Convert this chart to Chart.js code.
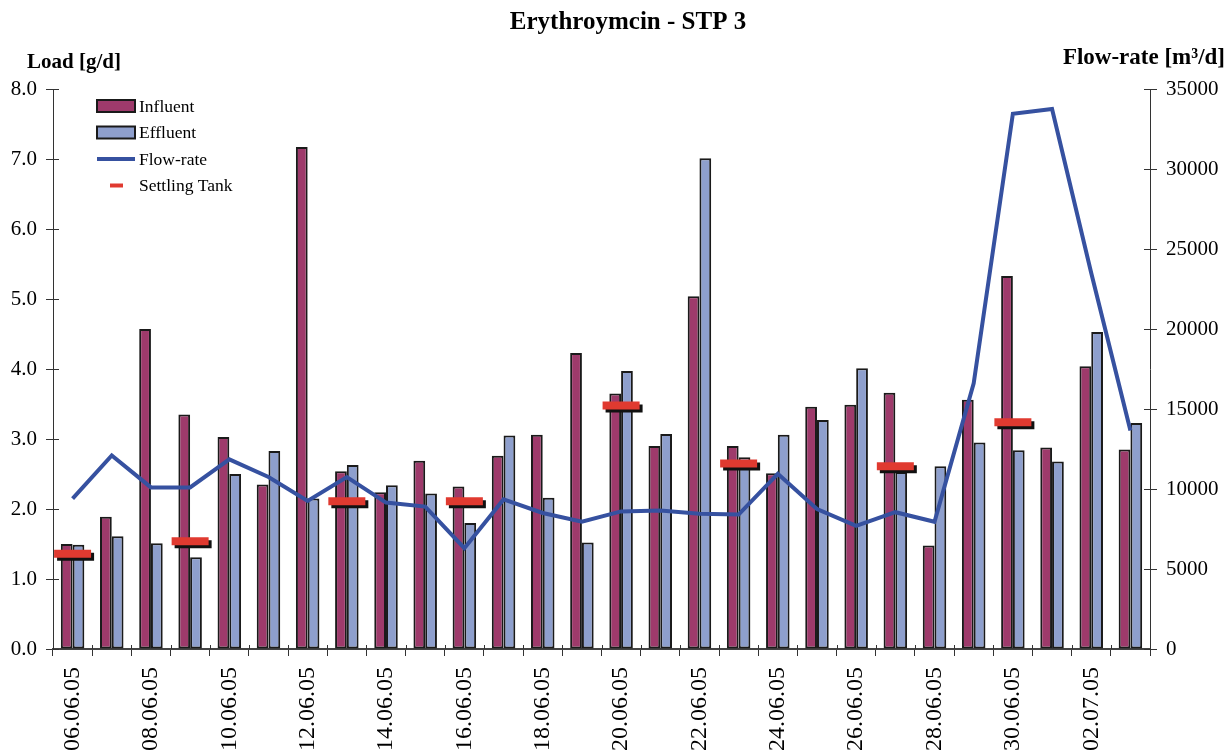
<!DOCTYPE html>
<html>
<head>
<meta charset="utf-8">
<title>Erythroymcin - STP 3</title>
<script src="https://cdn.jsdelivr.net/npm/chart.js@4.4.1/dist/chart.umd.min.js"></script>
<style>
  html, body { margin: 0; padding: 0; background: #fff; }
  #chart { display: block; }
</style>
</head>
<body>
<canvas id="chart" width="1231" height="756"></canvas>
<script>
// sampling days, one bar pair per day
const days = [
  '06.06.05', '07.06.05', '08.06.05', '09.06.05', '10.06.05', '11.06.05', '12.06.05',
  '13.06.05', '14.06.05', '15.06.05', '16.06.05', '17.06.05', '18.06.05', '19.06.05',
  '20.06.05', '21.06.05', '22.06.05', '23.06.05', '24.06.05', '25.06.05', '26.06.05',
  '27.06.05', '28.06.05', '29.06.05', '30.06.05', '01.07.05', '02.07.05', '03.07.05',
];

// load in g/d
const influent = [
  1.50, 1.89, 4.57, 3.35, 3.03, 2.35, 7.17, 2.54, 2.24, 2.69, 2.32, 2.76, 3.06, 4.23,
  3.65, 2.90, 5.04, 2.90, 2.51, 3.46, 3.49, 3.66, 1.48, 3.56, 5.33, 2.88, 4.04, 2.85,
];
const effluent = [
  1.49, 1.61, 1.51, 1.31, 2.50, 2.83, 2.15, 2.63, 2.34, 2.22, 1.80, 3.05, 2.16, 1.52,
  3.97, 3.07, 7.01, 2.74, 3.06, 3.27, 4.01, 2.53, 2.61, 2.95, 2.84, 2.68, 4.53, 3.23,
];
const settlingTank = [
  1.36, null, null, 1.54, null, null, null, 2.11, null, null, 2.11, null, null, null,
  3.48, null, null, 2.65, null, null, null, 2.61, null, null, 3.24, null, null, null,
];

// flow-rate in m3/d
const flowRate = [
  9400, 12100, 10100, 10100, 11850, 10750, 9250, 10750, 9150, 8900, 6300, 9350, 8500, 7950,
  8600, 8650, 8450, 8400, 10950, 8750, 7700, 8550, 7950, 16600, 33450, 33750, 23500, 13650,
];

const loadTicks = [0, 1, 2, 3, 4, 5, 6, 7, 8];
const flowTicks = [0, 5000, 10000, 15000, 20000, 25000, 30000, 35000];

const SERIF = '"Liberation Serif", "Times New Roman", serif';
const INK = '#1a1a1a';
const colors = {
  influent: '#9e3a6b',
  effluent: '#8e9fcd',
  flow: '#3651a0',
  tank: '#e03a30',
};

// black drop shadow under the settling tank dashes
const tankShadow = {
  id: 'tankShadow',
  beforeDatasetDraw(chart, args) {
    if (chart.data.datasets[args.index].label !== 'Settling Tank') return;
    const ctx = chart.ctx;
    ctx.save();
    ctx.shadowColor = '#111';
    ctx.shadowOffsetX = 3;
    ctx.shadowOffsetY = 3;
    ctx.shadowBlur = 0;
  },
  afterDatasetDraw(chart, args) {
    if (chart.data.datasets[args.index].label !== 'Settling Tank') return;
    chart.ctx.restore();
  },
};

// title, axis captions, inner tick marks and legend
const decorations = {
  id: 'decorations',
  afterDraw(chart) {
    const ctx = chart.ctx;
    const area = chart.chartArea;
    ctx.save();
    ctx.fillStyle = '#000';
    ctx.textBaseline = 'alphabetic';

    ctx.font = 'bold 25px ' + SERIF;
    ctx.textAlign = 'center';
    ctx.fillText('Erythroymcin - STP 3', 628, 29);

    ctx.font = 'bold 21px ' + SERIF;
    ctx.textAlign = 'left';
    ctx.fillText('Load [g/d]', 27, 68);
    ctx.font = 'bold 23px ' + SERIF;
    ctx.textAlign = 'right';
    ctx.fillText('Flow-rate [m\u00b3/d]', 1225, 64);

    // ticks crossing into the plot
    ctx.strokeStyle = '#333';
    ctx.lineWidth = 1;
    ctx.beginPath();
    chart.scales.y.ticks.forEach((t) => {
      const y = Math.round(chart.scales.y.getPixelForValue(t.value)) + 0.5;
      ctx.moveTo(area.left, y);
      ctx.lineTo(area.left + 6, y);
    });
    chart.scales.y2.ticks.forEach((t) => {
      const y = Math.round(chart.scales.y2.getPixelForValue(t.value)) + 0.5;
      ctx.moveTo(area.right - 6, y);
      ctx.lineTo(area.right, y);
    });
    const step = (area.right - area.left) / days.length;
    for (let i = 0; i <= days.length; i++) {
      const x = Math.round(area.left + i * step) + 0.5;
      ctx.moveTo(x, area.bottom - 4);
      ctx.lineTo(x, area.bottom);
    }
    ctx.stroke();

    // legend
    const lx = 97, rowH = 26.5, top = 106;
    ctx.font = '17.5px ' + SERIF;
    ctx.textAlign = 'left';
    ctx.textBaseline = 'middle';
    [colors.influent, colors.effluent].forEach((c, i) => {
      const y = top + i * rowH;
      ctx.fillStyle = c;
      ctx.fillRect(lx, y - 6, 38, 12);
      ctx.strokeStyle = INK;
      ctx.lineWidth = 2;
      ctx.strokeRect(lx, y - 6, 38, 12);
    });
    ctx.strokeStyle = colors.flow;
    ctx.lineWidth = 4;
    ctx.beginPath();
    ctx.moveTo(lx, top + 2 * rowH);
    ctx.lineTo(lx + 38, top + 2 * rowH);
    ctx.stroke();
    ctx.strokeStyle = colors.tank;
    ctx.beginPath();
    ctx.moveTo(lx + 13, top + 3 * rowH);
    ctx.lineTo(lx + 26, top + 3 * rowH);
    ctx.stroke();
    ctx.fillStyle = '#000';
    ['Influent', 'Effluent', 'Flow-rate', 'Settling Tank'].forEach((t, i) => {
      ctx.fillText(t, lx + 42, top + i * rowH + 1);
    });
    ctx.restore();
  },
};

new Chart(document.getElementById('chart'), {
  type: 'bar',
  data: {
    labels: days,
    datasets: [
      {
        type: 'line',
        label: 'Settling Tank',
        data: settlingTank,
        yAxisID: 'y',
        showLine: false,
        pointStyle: 'line',
        pointRadius: 18.5,
        pointBorderWidth: 8,
        pointBorderColor: colors.tank,
        pointBackgroundColor: colors.tank,
        order: 0,
      },
      {
        type: 'line',
        label: 'Flow-rate',
        data: flowRate,
        yAxisID: 'y2',
        borderColor: colors.flow,
        borderWidth: 4,
        pointRadius: 0,
        tension: 0,
        order: 1,
      },
      {
        label: 'Influent',
        data: influent,
        yAxisID: 'y',
        backgroundColor: colors.influent,
        borderColor: INK,
        borderWidth: 2,
        borderSkipped: false,
        order: 2,
      },
      {
        label: 'Effluent',
        data: effluent,
        yAxisID: 'y',
        backgroundColor: colors.effluent,
        borderColor: INK,
        borderWidth: 2,
        borderSkipped: false,
        order: 2,
      },
    ],
  },
  options: {
    responsive: false,
    animation: false,
    devicePixelRatio: 1,
    datasets: {
      bar: { categoryPercentage: 0.6, barPercentage: 1.0 },
    },
    layout: { padding: { top: 89, left: 0, right: 0, bottom: 0 } },
    plugins: {
      legend: { display: false },
      title: { display: false },
      tooltip: { enabled: false },
    },
    scales: {
      x: {
        afterFit: (scale) => { scale.height = 107; },
        border: { display: true, color: '#444', width: 2 },
        grid: { drawOnChartArea: false, tickLength: 7, color: '#333', offset: true },
        ticks: {
          autoSkip: false,
          minRotation: 90,
          maxRotation: 90,
          padding: 11,
          color: '#000',
          font: { family: SERIF, size: 24 },
          callback: (v, i) => (i % 2 === 0 ? days[i] : ''),
        },
      },
      y: {
        position: 'left',
        min: 0,
        max: 8,
        afterFit: (scale) => { scale.width = 53; },
        afterBuildTicks: (scale) => { scale.ticks = loadTicks.map((v) => ({ value: v })); },
        border: { display: true, color: '#333', width: 1 },
        grid: { drawOnChartArea: false, tickLength: 7, color: '#333' },
        ticks: {
          padding: 9,
          color: '#000',
          font: { family: SERIF, size: 21 },
          callback: (v) => Number(v).toFixed(1),
        },
      },
      y2: {
        position: 'right',
        min: 0,
        max: 35000,
        afterFit: (scale) => { scale.width = 81; },
        afterBuildTicks: (scale) => { scale.ticks = flowTicks.map((v) => ({ value: v })); },
        border: { display: true, color: '#333', width: 1 },
        grid: { drawOnChartArea: false, tickLength: 7, color: '#333' },
        ticks: {
          padding: 9,
          color: '#000',
          font: { family: SERIF, size: 21 },
          callback: (v) => String(v),
        },
      },
    },
  },
  plugins: [tankShadow, decorations],
});
</script>
</body>
</html>
